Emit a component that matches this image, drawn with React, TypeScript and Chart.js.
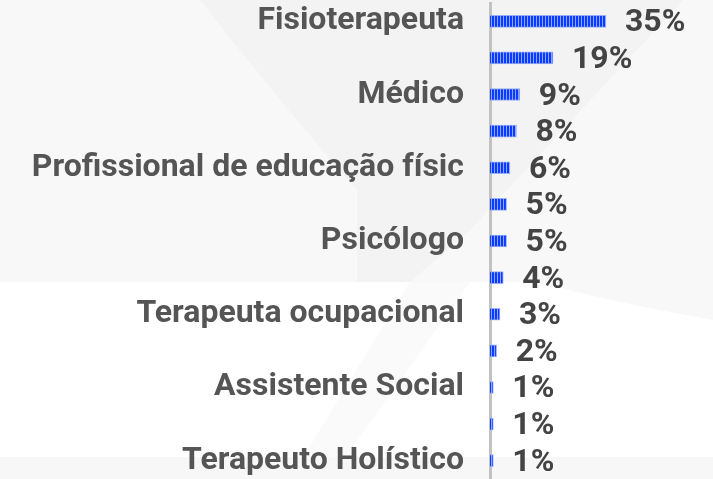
import React, { useEffect, useRef } from "react";
import { Chart, registerables } from "chart.js";

Chart.register(...registerables);

const categories = [
  "Fisioterapeuta",
  "Enfermeiro",
  "Médico",
  "Nutricionista",
  "Profissional de educação físic",
  "Fonoaudiólogo",
  "Psicólogo",
  "Massoterapeuta",
  "Terapeuta ocupacional",
  "Cuidador",
  "Assistente Social",
  "Acupunturista",
  "Terapeuto Holístico",
];
const values = [35, 19, 9, 8, 6, 5, 5, 4, 3, 2, 1, 1, 1];
const xMax = 67.3;

const FONT = "Roboto, 'Noto Sans', sans-serif";

function makePattern(): CanvasPattern | string {
  const c = document.createElement("canvas");
  c.width = 3;
  c.height = 4;
  const g = c.getContext("2d");
  if (!g) return "#0a3cff";
  g.fillStyle = "#0a3cff";
  g.fillRect(0, 0, 3, 4);
  g.fillStyle = "#8ea6ff";
  g.fillRect(2, 0, 1, 4);
  return g.createPattern(c, "repeat") || "#0a3cff";
}

const backgroundPlugin = {
  id: "bgShapes",
  beforeDraw(chart: any) {
    const ctx = chart.ctx as CanvasRenderingContext2D;
    const w = chart.width;
    const h = chart.height;
    ctx.save();
    ctx.fillStyle = "#ffffff";
    ctx.fillRect(0, 0, w, h);
    ctx.fillStyle = "#f8f8f8";
    ctx.beginPath();
    ctx.moveTo(0, 0);
    ctx.lineTo(w, 0);
    ctx.lineTo(w, 320);
    ctx.quadraticCurveTo(600, 300, 540, 282);
    ctx.lineTo(0, 282);
    ctx.closePath();
    ctx.fill();
    ctx.fillStyle = "#f3f3f3";
    ctx.beginPath();
    ctx.moveTo(200, 0);
    ctx.lineTo(683, 0);
    ctx.lineTo(470, 230);
    ctx.lineTo(410, 282);
    ctx.lineTo(357, 282);
    ctx.lineTo(357, 190);
    ctx.quadraticCurveTo(270, 90, 200, 0);
    ctx.closePath();
    ctx.fill();
    ctx.fillStyle = "#fafafa";
    ctx.beginPath();
    ctx.moveTo(410, 282);
    ctx.lineTo(470, 282);
    ctx.lineTo(330, 479);
    ctx.lineTo(290, 479);
    ctx.closePath();
    ctx.fill();
    ctx.fillStyle = "#f7f7f7";
    ctx.fillRect(0, 457, w, h - 457);
    ctx.restore();
  },
};

const valueLabelPlugin = {
  id: "valueLabels",
  afterDatasetsDraw(chart: any) {
    const ctx = chart.ctx as CanvasRenderingContext2D;
    const meta = chart.getDatasetMeta(0);
    ctx.save();
    ctx.font = `bold 32px ${FONT}`;
    ctx.fillStyle = "#444444";
    ctx.textAlign = "left";
    ctx.textBaseline = "middle";
    meta.data.forEach((bar: any, i: number) => {
      ctx.fillText(`${values[i]}%`, bar.x + 19, bar.y + 2);
    });
    ctx.restore();
  },
};

export default function App() {
  const ref = useRef<HTMLCanvasElement | null>(null);

  useEffect(() => {
    if (!ref.current) return;
    const chart = new Chart(ref.current, {
      type: "bar",
      data: {
        labels: categories,
        datasets: [
          {
            data: values,
            backgroundColor: makePattern() as any,
            borderColor: "rgba(130,155,255,0.8)",
            borderWidth: 1,
            borderSkipped: "left",
            barThickness: 12,
          },
        ],
      },
      options: {
        indexAxis: "y",
        animation: false,
        responsive: false,
        maintainAspectRatio: false,
        layout: { padding: { top: 3, bottom: 0, left: 0, right: 0 } },
        plugins: {
          legend: { display: false },
          tooltip: { enabled: false },
        },
        scales: {
          x: {
            display: false,
            min: 0,
            max: xMax,
          },
          y: {
            afterFit(scale: any) {
              scale.width = 490;
              scale.paddingTop = 0;
              scale.paddingBottom = 0;
            },
            grid: { display: false, drawTicks: false },
            border: { display: true, color: "#c2c2c2", width: 3 },
            ticks: {
              autoSkip: false,
              padding: 26,
              color: "#555555",
              font: { family: FONT, size: 32, weight: "bold" },
              callback: (_v: any, i: number) => (i % 2 === 0 ? categories[i] : ""),
            },
          },
        },
      },
      plugins: [backgroundPlugin, valueLabelPlugin],
    });
    return () => chart.destroy();
  }, []);

  return (
    <div style={{ position: "fixed", left: 0, top: 0, width: 713, height: 479 }}>
      <canvas ref={ref} width={713} height={479} style={{ display: "block" }} />
    </div>
  );
}
